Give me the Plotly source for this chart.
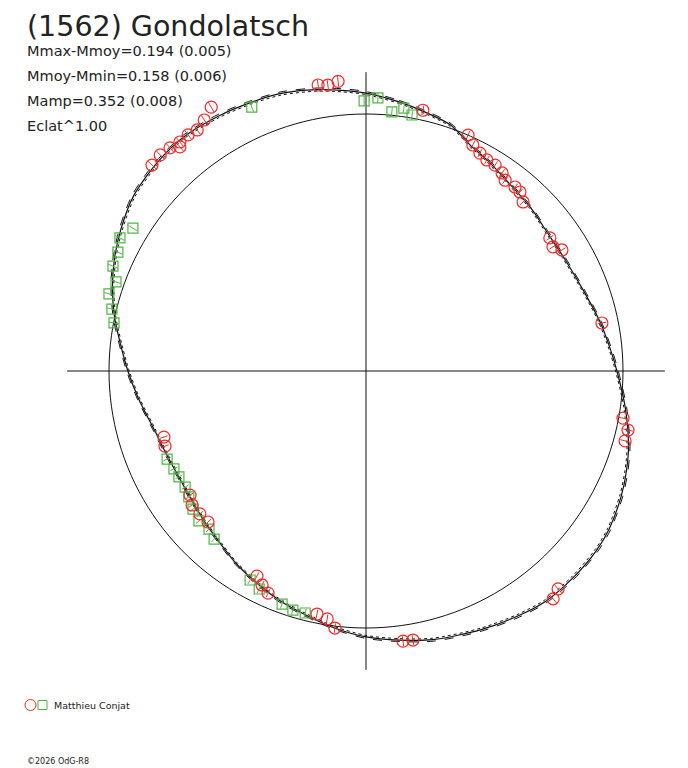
import plotly.graph_objects as go

# ---------------- data ----------------
# Fitted lightcurve: rotational phase (deg, clockwise from top) and magnitude relative to mean
curve_phase_deg = [0, 7, 13, 19, 25, 30, 36, 45, 53, 60, 70, 78, 85, 90, 98, 106, 111, 116,
                   123, 128, 135, 142, 148, 156, 166, 173, 180, 187, 194, 200, 206, 214, 220,
                   227, 234, 240, 247, 254, 263, 270, 276, 282, 288, 294, 300, 307, 315, 322,
                   330, 337, 343, 350, 355, 360]
curve_dm = [-0.085, -0.058, -0.035, -0.013, 0.037, 0.060, 0.088, 0.111, 0.130, 0.130, 0.111,
            0.079, 0.050, 0.026, -0.020, -0.066, -0.089, -0.109, -0.131, -0.139, -0.141,
            -0.139, -0.125, -0.105, -0.081, -0.058, -0.037, -0.008, 0.025, 0.048, 0.075,
            0.110, 0.140, 0.165, 0.185, 0.193, 0.188, 0.172, 0.125, 0.083, 0.045, 0.000,
            -0.040, -0.075, -0.105, -0.135, -0.150, -0.156, -0.148, -0.139, -0.132, -0.115,
            -0.100, -0.085]

# Observations (Matthieu Conjat) - session 1 (red circles)
red_phase_deg = [350.5, 352.4, 354.5, 329.6, 327.2, 325.0, 323.0, 320.9, 320.3, 318.7, 316.4,
                 313.9, 12.3, 23.4, 25.3, 27.6, 29.8, 32.1, 34.5, 36.1, 39.0, 40.7, 42.9, 54.1,
                 56.4, 58.3, 78.5, 100.4, 102.7, 105.1, 138.6, 140.6, 191.4, 188.9, 186.9,
                 172.2, 170.1, 208.0, 205.9, 203.8, 251.9, 249.5, 234.8, 232.4, 229.3, 226.3]
red_dm = [-0.131, -0.125, -0.135, -0.189, -0.163, -0.147, -0.152, -0.150, -0.136, -0.157,
          -0.162, -0.157, -0.041, 0.000, 0.030, 0.048, 0.060, 0.061, 0.073, 0.092, 0.089,
          0.092, 0.117, 0.135, 0.147, 0.119, 0.071, -0.018, -0.048, -0.047, -0.133, -0.149,
          0.039, 0.026, -0.008, -0.064, -0.066, 0.110, 0.084, 0.062, 0.206, 0.196, 0.192,
          0.171, 0.173, 0.176]

# Observations - session 2 (green squares)
green_phase_deg = [301.5, 298.4, 295.6, 292.5, 289.6, 286.7, 283.7, 280.8, 359.6, 2.5, 5.7,
                   8.2, 10.2, 336.6, 246.1, 243.0, 240.5, 237.3, 234.6, 231.4, 228.1, 224.8,
                   222.1, 209.0, 206.1, 199.8, 197.0, 194.1]
green_dm = [-0.067, -0.092, -0.074, -0.069, -0.035, -0.047, -0.019, 0.002, -0.054, -0.067,
            -0.014, -0.036, -0.013, -0.122, 0.181, 0.191, 0.194, 0.194, 0.182, 0.162, 0.147,
            0.155, 0.137, 0.079, 0.062, 0.040, 0.030, 0.032]

err_dm = 0.02  # typical photometric error shown as radial bars

title_text = "(1562) Gondolatsch"
stats_lines = ["Mmax-Mmoy=0.194 (0.005)", "Mmoy-Mmin=0.158 (0.006)",
               "Mamp=0.352 (0.008)", "Eclat^1.00"]
observer = "Matthieu Conjat"
footer = "\u00a92026 OdG-R8"

# ---------------- helpers ----------------
def flux(dms, shift=0.0):
    return [10 ** (-0.4 * (d + shift)) for d in dms]


def err_segments(phases, dms, e):
    rr, tt = [], []
    for p, d in zip(phases, dms):
        rr += [10 ** (-0.4 * (d - e)), 10 ** (-0.4 * (d + e)), None]
        tt += [p, p, None]
    return rr, tt


RED = "#ee2a2a"
GREEN = "#52b447"
INK = "#111111"

fig = go.Figure()

# reference circle (mean brightness)
circ_theta = list(range(0, 361, 2))
fig.add_trace(go.Scatterpolar(r=[1.0] * len(circ_theta), theta=circ_theta, mode="lines",
                              line=dict(color=INK, width=1), hoverinfo="skip"))

# cross axes
AX = 1.163
fig.add_trace(go.Scatterpolar(r=[AX, 0, AX, None, AX, 0, AX], theta=[0, 0, 180, None, 90, 90, 270],
                              mode="lines", line=dict(color=INK, width=1), hoverinfo="skip"))

# lightcurve model (several overlapping fits)
for sh, dash, w in [(0.0, "solid", 1.2), (-0.006, "dash", 1.0), (0.006, "dot", 1.0)]:
    fig.add_trace(go.Scatterpolar(r=flux(curve_dm, sh), theta=curve_phase_deg, mode="lines",
                                  line=dict(color=INK, width=w, dash=dash, shape="spline",
                                            smoothing=0.8),
                                  hoverinfo="skip"))

# error bars
for ph, dm, col in [(red_phase_deg, red_dm, RED), (green_phase_deg, green_dm, GREEN)]:
    rr, tt = err_segments(ph, dm, err_dm)
    fig.add_trace(go.Scatterpolar(r=rr, theta=tt, mode="lines", line=dict(color=col, width=1),
                                  hoverinfo="skip"))

fig.add_trace(go.Scatterpolar(r=flux(green_dm), theta=green_phase_deg, mode="markers",
                              marker=dict(symbol="square-open", size=10, color=GREEN,
                                          line=dict(width=1.2, color=GREEN))))
fig.add_trace(go.Scatterpolar(r=flux(red_dm), theta=red_phase_deg, mode="markers",
                              marker=dict(symbol="circle-open", size=12, color=RED,
                                          line=dict(width=1.2, color=RED))))

# ---------------- layout ----------------
# page body has an 8 px margin: figure occupies window pixels 8..688 / 8..768
OFF = 8
W, H = 680, 760
CX, CY = 366 - OFF, 371 - OFF
R_PX = 257.0
RMAX = 1.24
half = R_PX * RMAX
dom_x = [(CX - half) / W, min(1.0, (CX + half) / W)]
dom_y = [1 - (CY + half) / H, 1 - (CY - half) / H]

fig.update_layout(
    width=W, height=H,
    margin=dict(l=0, r=0, t=0, b=0),
    paper_bgcolor="white",
    showlegend=False,
    polar=dict(
        domain=dict(x=dom_x, y=dom_y),
        bgcolor="white",
        radialaxis=dict(range=[0, RMAX], visible=False, showgrid=False),
        angularaxis=dict(rotation=90, direction="clockwise", visible=False,
                         showgrid=False, showline=False),
    ),
    font=dict(family="DejaVu Sans", color="#222222"),
)

def px_ann(text, x, y, size, anchor="left", yanchor="middle"):
    fig.add_annotation(text=text, x=(x - OFF) / W, y=1 - (y - OFF) / H, xref="paper", yref="paper",
                       xanchor=anchor, yanchor=yanchor, showarrow=False,
                       font=dict(size=size, color="#222222", family="DejaVu Sans"))

# title box starts right at the top edge of the figure
px_ann(title_text, 25, OFF, 28.5, yanchor="top")
for i, line in enumerate(stats_lines):
    px_ann(line, 25, 51 + 25 * i, 14.5)

px_ann(observer, 52, 705, 9.5)
px_ann(footer, 25, 761, 8)

# legend symbols
def ly(v):
    return 1 - (v - OFF) / H

def lx(v):
    return (v - OFF) / W

fig.add_shape(type="circle", xref="paper", yref="paper",
              x0=lx(25), x1=lx(36), y0=ly(710.5), y1=ly(699.5),
              line=dict(color=RED, width=1))
fig.add_shape(type="rect", xref="paper", yref="paper",
              x0=lx(38), x1=lx(47), y0=ly(709.5), y1=ly(700.5),
              line=dict(color=GREEN, width=1))

fig.write_html("out.html")
